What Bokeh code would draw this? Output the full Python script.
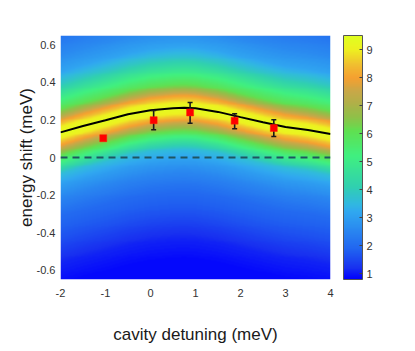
import numpy as np
from bokeh.plotting import figure
from bokeh.models import (Range1d, LinearColorMapper, ColorBar, FixedTicker, Span)
from bokeh.embed import file_html
from bokeh.resources import INLINE

# ---- data ----
curve_x = [-2.0, -1.5, -1.0, -0.5, 0.0, 0.5, 0.75, 1.0, 1.5, 2.0, 2.5, 3.0, 3.5, 4.0]
curve_y = [0.134, 0.168, 0.198, 0.230, 0.252, 0.263, 0.265, 0.262, 0.243, 0.215, 0.188, 0.163, 0.147, 0.125]

pts_x = [-1.05, 0.07, 0.88, 1.87, 2.74]
pts_y = [0.103, 0.199, 0.240, 0.196, 0.157]
err_x = [0.07, 0.88, 1.87, 2.74]
err_lo = [0.148, 0.183, 0.153, 0.112]
err_hi = [0.251, 0.293, 0.233, 0.201]

# intensity profile across the band (offset from the curve -> colour value)
band_offset = [-0.80, -0.70, -0.57, -0.45, -0.35, -0.28, -0.22, -0.17, -0.13, -0.10,
               -0.065, -0.03, 0.0, 0.03, 0.065, 0.10, 0.13, 0.19, 0.26, 0.33, 0.42, 0.52, 0.60]
band_value = [0.9, 1.1, 1.6, 2.0, 2.5, 3.0, 3.6, 4.8, 5.9, 6.8,
              8.0, 9.0, 9.4, 9.0, 8.0, 6.8, 6.0, 5.0, 3.9, 3.1, 2.6, 2.2, 2.0]

x_ticks = [-2, -1, 0, 1, 2, 3, 4]
x_tick_labels = ["-2", "-1", "0", "1", "2", "3", "4"]
y_ticks = [-0.6, -0.4, -0.2, 0.0, 0.2, 0.4, 0.6]
y_tick_labels = ["-0.6", "-0.4", "-0.2", "0", "0.2", "0.4", "0.6"]
cbar_ticks = [1, 2, 3, 4, 5, 6, 7, 8, 9]

# ---- colormap anchors (value, colour) ----
cmap_vals = [0.8, 1.2, 1.8, 2.4, 3.2, 3.5, 4.1, 5.2, 6.1, 6.6, 7.1, 7.5, 8.0, 8.5, 9.0, 9.5]
cmap_cols = ["#0000ff", "#1830f0", "#2060f0", "#2880f0", "#30a8f0", "#30b8e0", "#30d0b0",
             "#40f080", "#60e050", "#90c048", "#b0b048", "#c8a848", "#f5a030", "#f0c030",
             "#eef020", "#e0ff20"]
LOW, HIGH = 0.8, 9.5


def hex2rgb(h):
    return [int(h[i:i + 2], 16) for i in (1, 3, 5)]


rgb = np.array([hex2rgb(c) for c in cmap_cols], dtype=float)
vv = np.linspace(LOW, HIGH, 256)
palette = []
for v in vv:
    r = np.interp(v, cmap_vals, rgb[:, 0])
    g = np.interp(v, cmap_vals, rgb[:, 1])
    b = np.interp(v, cmap_vals, rgb[:, 2])
    palette.append("#%02x%02x%02x" % (int(round(r)), int(round(g)), int(round(b))))

# ---- background image ----
X0, X1, Y0, Y1 = -2.0, 4.0, -0.65, 0.65
gx = np.linspace(X0, X1, 300)
gy = np.linspace(Y0, Y1, 260)
cy = np.interp(gx, curve_x, curve_y)
D = gy[:, None] - cy[None, :]
img = np.interp(D, band_offset, band_value)

p = figure(width=410, height=347, x_range=Range1d(X0, X1), y_range=Range1d(Y0, Y1),
           output_backend="svg", toolbar_location=None,
           min_border_left=60, min_border_top=35, min_border_bottom=68, min_border_right=80)
p.outline_line_color = None
p.grid.visible = False
p.background_fill_color = "white"
p.border_fill_color = "white"

mapper = LinearColorMapper(palette=palette, low=LOW, high=HIGH)
p.image(image=[img], x=X0, y=Y0, dw=X1 - X0, dh=Y1 - Y0, color_mapper=mapper)

p.add_layout(Span(location=0, dimension="width", line_color="#1f5560",
                  line_width=2, line_dash="7 5"))

p.line(curve_x, curve_y, line_color="black", line_width=2)

# error bars
p.segment(x0=err_x, y0=err_lo, x1=err_x, y1=err_hi, line_color="#1a1a1a", line_width=1.6)
p.scatter(err_x, err_lo, marker="dash", size=5, line_color="#1a1a1a", line_width=1.5)
p.scatter(err_x, err_hi, marker="dash", size=5, line_color="#1a1a1a", line_width=1.5)

p.scatter(pts_x, pts_y, marker="square", size=7, fill_color="#ff0000",
          line_color="#ff2000", line_width=0.5)

for ax in (p.xaxis[0], p.yaxis[0]):
    ax.axis_line_color = None
    ax.major_tick_line_color = None
    ax.minor_tick_line_color = None
    ax.major_tick_in = 0
    ax.major_tick_out = 0
    ax.minor_tick_out = 0
    ax.major_label_text_font = "Liberation Sans"
    ax.major_label_text_font_size = "11px"
    ax.major_label_text_color = "#333333"
    ax.axis_label_text_font = "Liberation Sans"
    ax.axis_label_text_font_size = "17px"
    ax.axis_label_text_font_style = "normal"
    ax.axis_label_text_color = "#1a1a1a"

p.xaxis.ticker = FixedTicker(ticks=x_ticks)
p.xaxis.major_label_overrides = dict(zip(x_ticks, x_tick_labels))
p.yaxis.ticker = FixedTicker(ticks=y_ticks)
p.yaxis.major_label_overrides = dict(zip(y_ticks, y_tick_labels))
p.xaxis.axis_label = "cavity detuning (meV)"
p.yaxis.axis_label = "energy shift (meV)"
p.xaxis.major_label_standoff = 9
p.xaxis.axis_label_standoff = 25
p.yaxis.major_label_standoff = 5
p.yaxis.axis_label_standoff = -2

cb = ColorBar(color_mapper=mapper, ticker=FixedTicker(ticks=cbar_ticks),
              width=19, margin=0, padding=0, location=(13, 0),
              bar_line_color="#555555", bar_line_width=1,
              major_tick_line_color="#444444", major_tick_in=3, major_tick_out=0,
              minor_tick_line_color=None,
              major_label_text_font="Liberation Sans",
              major_label_text_font_size="11px",
              major_label_text_color="#333333",
              label_standoff=4,
              border_line_color=None, background_fill_color=None)
p.add_layout(cb, "right")

open("out.html", "w").write(file_html(p, INLINE))
